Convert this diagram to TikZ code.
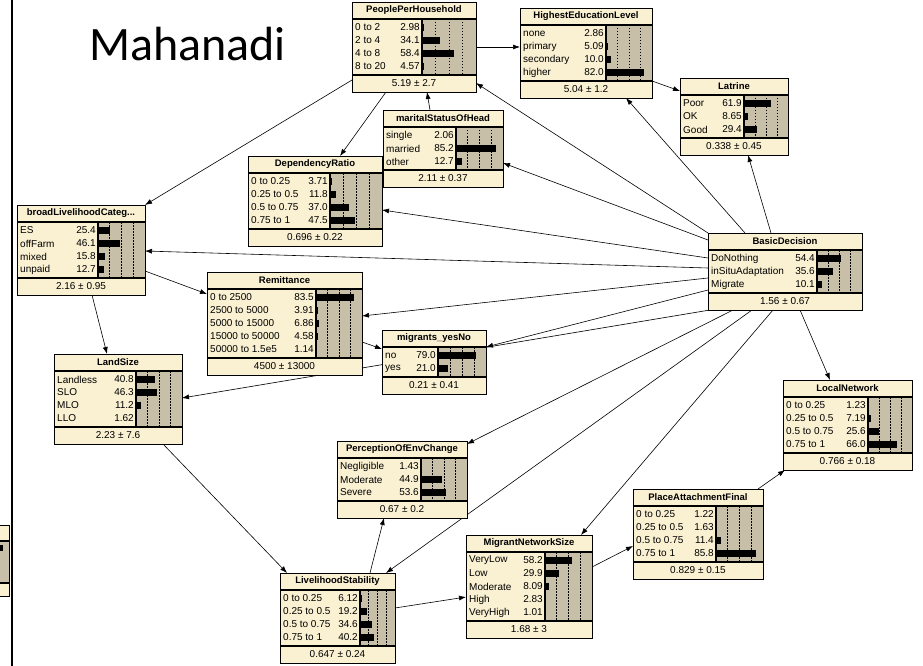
\documentclass[tikz,border=0pt]{standalone}
\usepackage{fontspec}
\setmainfont{Liberation Sans}
\newfontfamily\placefont{Carlito}
\usetikzlibrary{arrows.meta,calc}
\pgfdeclarelayer{paper}
\pgfdeclarelayer{links}
\pgfsetlayers{paper,links,main}
\definecolor{nodefill}{RGB}{250,240,210}
\definecolor{barfill}{RGB}{200,191,168}
\tikzset{
  bnbox/.style={rectangle, fill=nodefill, inner sep=0pt, outer sep=0pt},
  boxline/.style={draw=black, line width=0.8pt},
  sepline/.style={black, line width=1.1pt},
  gridline/.style={black, line width=0.6pt, dash pattern=on 1.5pt off 1.5pt},
  statetext/.style={inner sep=0pt, font=\fontsize{10}{12}\selectfont},
  titletext/.style={inner sep=0pt, font=\fontsize{9.5}{11}\selectfont\bfseries},
  link/.style={black, line width=0.6pt, -{Latex[length=7pt,width=5pt]}},
}
% Belief-bar node: #1 name, #2 left, #3 top, #4 right, #5 start of bar column,
% #6 number of states, #7 title, #8 mean +- sd, #9 list label/probability
\newcommand\bnnode[9]{%
  \pgfmathsetmacro\bnTs{#3+17}%
  \pgfmathsetmacro\bnSf{#3+17+13*#6+4}%
  \pgfmathsetmacro\bnB{\bnSf+17}%
  \pgfmathsetmacro\bnW{#4-#2}%
  \pgfmathsetmacro\bnH{\bnB-#3}%
  \pgfmathsetmacro\bnCx{(#2+#4)/2}%
  \pgfmathsetmacro\bnBw{#4-#5}%
  \node[bnbox, minimum width=\bnW pt, minimum height=\bnH pt, anchor=north west] (#1) at (#2,#3) {};
  \fill[barfill] (#5,\bnTs) rectangle (#4,\bnSf);
  \foreach \k in {1,2,3} \draw[gridline] ({#5+\k*\bnBw/4},\bnTs) -- ({#5+\k*\bnBw/4},\bnSf);
  \foreach [count=\i] \lab/\val in {#9} {
    \pgfmathsetmacro\ry{\bnTs+2+13*\i-6.5}
    \node[statetext, anchor=west] at (#2+3,\ry) {\lab};
    \node[statetext, anchor=east] at (#5-2,\ry) {\val};
    \fill (#5,\ry-3.5) rectangle ({#5+\val*\bnBw/100},\ry+3.5);
  }
  \draw[sepline] (#2,\bnTs) -- (#4,\bnTs) (#2,\bnSf) -- (#4,\bnSf) (#5,\bnTs) -- (#5,\bnSf);
  \node[titletext] at (\bnCx,#3+8.5) {#7};
  \node[statetext] at (\bnCx,\bnSf+8.5) {#8};
  \draw[boxline] (#1.north west) rectangle (#1.south east);
}
\begin{document}
\begin{tikzpicture}[x=1pt, y=-1pt]
\begin{pgfonlayer}{paper}
\fill[white] (0,0) rectangle (923,666);
\end{pgfonlayer}
\useasboundingbox (0,0) rectangle (923,666);

% frame edge and the node cut off at the left
\draw[line width=1.5pt] (12,0) -- (12,666);
\fill[nodefill] (0,525) rectangle (9,596);
\fill[barfill] (0,541) rectangle (9,583);
\fill (0,545) rectangle (3,551);
\draw[sepline] (0,541) -- (9,541) (0,583) -- (9,583);
\draw[boxline] (0,525) -- (9,525) -- (9,596) -- (0,596);

\node[anchor=base west, inner sep=0pt, font=\placefont\fontsize{48}{56}\selectfont] (place) at (89,61) {Mahanadi};

\bnnode{PPH}{352}{2}{476}{422}{4}{PeoplePerHousehold}{5.19 ± 2.7}
  {0 to 2/2.98, 2 to 4/34.1, 4 to 8/58.4, 8 to 20/4.57}
\bnnode{HEL}{520}{8}{652}{606}{4}{HighestEducationLevel}{5.04 ± 1.2}
  {none/2.86, primary/5.09, secondary/10.0, higher/82.0}
\bnnode{LAT}{680}{78}{788}{744}{3}{Latrine}{0.338 ± 0.45}
  {Poor/61.9, OK/8.65, Good/29.4}
\bnnode{MS}{383}{110}{503}{456}{3}{maritalStatusOfHead}{2.11 ± 0.37}
  {single/2.06, married/85.2, other/12.7}
\bnnode{DR}{248}{156}{382}{330}{4}{DependencyRatio}{0.696 ± 0.22}
  {0 to 0.25/3.71, 0.25 to 0.5/11.8, 0.5 to 0.75/37.0, 0.75 to 1/47.5}
\bnnode{BLC}{17}{205}{145}{98}{4}{broadLivelihoodCateg...}{2.16 ± 0.95}
  {ES/25.4, offFarm/46.1, mixed/15.8, unpaid/12.7}
\bnnode{BD}{708}{233}{862}{817}{3}{BasicDecision}{1.56 ± 0.67}
  {DoNothing/54.4, inSituAdaptation/35.6, Migrate/10.1}
\bnnode{REM}{207}{272}{362}{316}{5}{Remittance}{4500 ± 13000}
  {0 to 2500/83.5, 2500 to 5000/3.91, 5000 to 15000/6.86, 15000 to 50000/4.58, 50000 to 1.5e5/1.14}
\bnnode{MIG}{382}{330}{486}{438}{2}{migrants\_yesNo}{0.21 ± 0.41}
  {no/79.0, yes/21.0}
\bnnode{LAND}{54}{354}{182}{136}{4}{LandSize}{2.23 ± 7.6}
  {Landless/40.8, SLO/46.3, MLO/11.2, LLO/1.62}
\bnnode{LN}{783}{380}{912}{868}{4}{LocalNetwork}{0.766 ± 0.18}
  {0 to 0.25/1.23, 0.25 to 0.5/7.19, 0.5 to 0.75/25.6, 0.75 to 1/66.0}
\bnnode{PEC}{337}{441}{467}{421}{3}{PerceptionOfEnvChange}{0.67 ± 0.2}
  {Negligible/1.43, Moderate/44.9, Severe/53.6}
\bnnode{PAF}{633}{489}{763}{716}{4}{PlaceAttachmentFinal}{0.829 ± 0.15}
  {0 to 0.25/1.22, 0.25 to 0.5/1.63, 0.5 to 0.75/11.4, 0.75 to 1/85.8}
\bnnode{MNS}{466}{535}{592}{545}{5}{MigrantNetworkSize}{1.68 ± 3}
  {VeryLow/58.2, Low/29.9, Moderate/8.09, High/2.83, VeryHigh/1.01}
\bnnode{LS}{280}{573}{395}{360}{4}{LivelihoodStability}{0.647 ± 0.24}
  {0 to 0.25/6.12, 0.25 to 0.5/19.2, 0.5 to 0.75/34.6, 0.75 to 1/40.2}

% links run underneath the nodes
\begin{pgfonlayer}{links}
\draw[link] (PPH.east) -- ($(HEL.north west)+(0,39)$);
\draw[link] ($(PPH.south west)+(34,0)$) -- ($(DR.north west)+(92,0)$);
\draw[link] ($(PPH.north west)+(0,78)$) -- (BLC.north east);
\draw[link] ($(MS.north west)+(47,0)$) -- ($(PPH.south west)+(75,0)$);
\draw[link] ($(HEL.north east)+(0,73)$) -- ($(LAT.north west)+(0,13)$);
\draw[link] ($(BD.north west)+(37,0)$) -- ($(HEL.south west)+(106,0)$);
\draw[link] ($(BD.north west)+(63,0)$) -- ($(LAT.south west)+(68,0)$);
\draw[link] (BD.north west) -- ($(PPH.north east)+(0,81)$);
\draw[link] ($(BD.north west)+(0,7)$) -- ($(MS.north east)+(0,53)$);
\draw[link] ($(BD.north west)+(0,25)$) -- ($(DR.north east)+(0,54)$);
\draw[link] ($(BD.north west)+(0,35)$) -- ($(BLC.north east)+(0,46)$);
\draw[link] ($(BD.north west)+(0,45)$) -- ($(REM.north east)+(0,44)$);
\draw[link] ($(BD.north west)+(0,57)$) -- ($(MIG.north east)+(0,17)$);
\draw[link] ($(BD.south west)+(2,0)$) -- ($(LAND.north east)+(0,44)$);
\draw[link] ($(BD.south west)+(25,0)$) -- ($(PEC.north east)+(0,3)$);
\draw[link] ($(BD.south west)+(44,0)$) -- ($(LS.north west)+(106,0)$);
\draw[link] ($(BD.south west)+(65,0)$) -- ($(MNS.north west)+(115,0)$);
\draw[link] ($(BD.south west)+(92,0)$) -- ($(LN.north west)+(47,0)$);
\draw[link] ($(BLC.north east)+(0,66)$) -- ($(REM.north west)+(0,22)$);
\draw[link] ($(REM.north east)+(0,70)$) -- ($(MIG.north west)+(0,19)$);
\draw[link] ($(BLC.south west)+(75,0)$) -- ($(LAND.north west)+(53,0)$);
\draw[link] ($(LAND.south west)+(109,0)$) -- ($(LS.north west)+(7,0)$);
\draw[link] ($(LS.north west)+(90,0)$) -- ($(PEC.south west)+(47,0)$);
\draw[link] ($(LS.north east)+(0,35)$) -- ($(MNS.north west)+(0,62)$);
\draw[link] ($(MNS.north east)+(0,32)$) -- ($(PAF.north west)+(0,57)$);
\draw[link] ($(PAF.north east)+(-5,0)$) -- ($(LN.south west)+(2,0)$);
\end{pgfonlayer}
\end{tikzpicture}
\end{document}
